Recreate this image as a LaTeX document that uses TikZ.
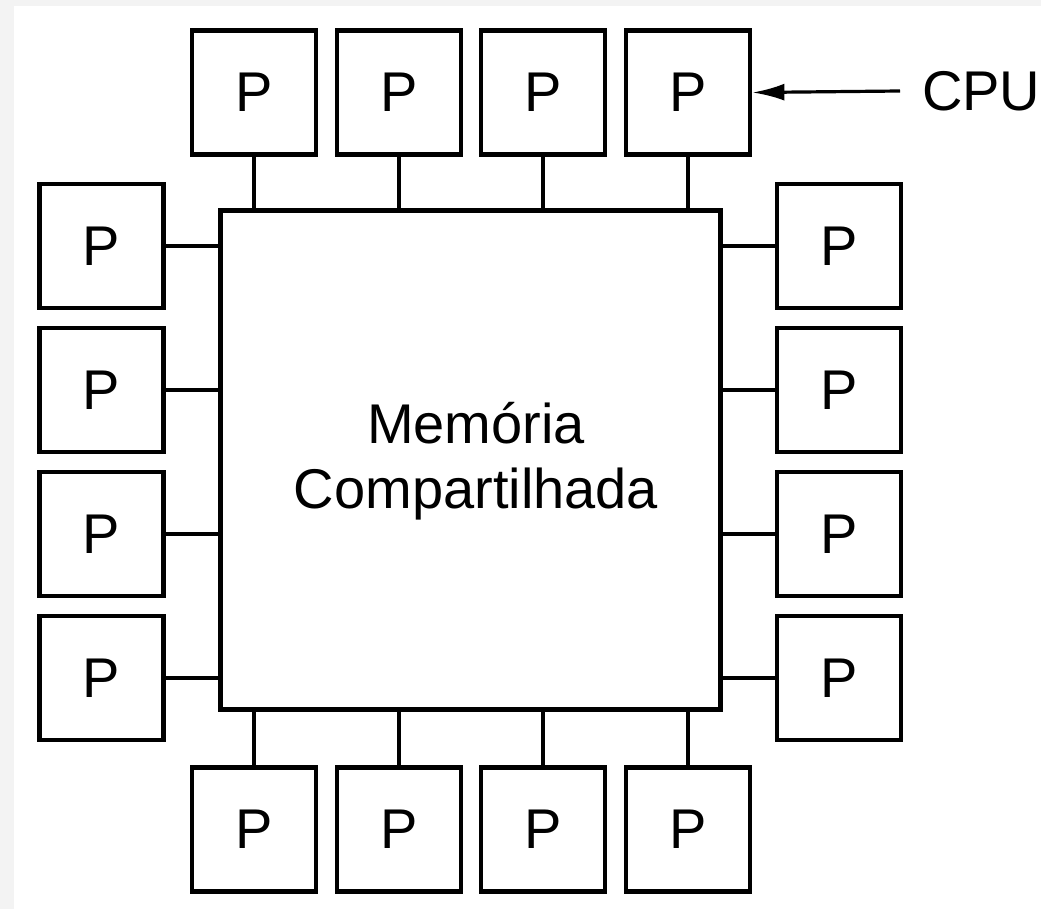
\documentclass[tikz,border=0pt]{standalone}
\usepackage{fontspec}
\setmainfont{Liberation Sans}
\usetikzlibrary{arrows.meta}
\definecolor{bggray}{HTML}{F3F3F3}
\tikzset{
  pbox/.style={draw=black, fill=white, line width=4.8pt, minimum width=124pt, minimum height=124pt, inner sep=0pt, font=\fontsize{56}{65}\selectfont},
  membox/.style={draw=black, fill=white, line width=5.2pt, minimum width=500pt, minimum height=499pt, inner sep=0pt},
  conn/.style={line width=4.2pt, draw=black},
  lbl/.style={font=\fontsize{56}{65}\selectfont, inner sep=0pt},
}
\begin{document}
\begin{tikzpicture}[x=1pt,y=-1pt]
\useasboundingbox (0,0) rectangle (1041,909);
\fill[bggray] (0,0) rectangle (1041,909);
\fill[white] (14,6) rectangle (1041,909);
% memory
\node[membox] (mem) at (470.5,460) {};
\node[lbl, align=center, anchor=base] (memtxt) at (476,508) {Memória\\Compartilhada};
% top
\node[pbox] (t1) at (254,92.5) {P};
\node[pbox] (t2) at (399,92.5) {P};
\node[pbox] (t3) at (543,92.5) {P};
\node[pbox] (t4) at (688,92.5) {P};
% bottom
\node[pbox] (b1) at (254,829.5) {P};
\node[pbox] (b2) at (399,829.5) {P};
\node[pbox] (b3) at (543,829.5) {P};
\node[pbox] (b4) at (688,829.5) {P};
% left
\node[pbox] (l1) at (101.5,246) {P};
\node[pbox] (l2) at (101.5,390) {P};
\node[pbox] (l3) at (101.5,534) {P};
\node[pbox] (l4) at (101.5,678) {P};
% right
\node[pbox] (r1) at (839,246) {P};
\node[pbox] (r2) at (839,390) {P};
\node[pbox] (r3) at (839,534) {P};
\node[pbox] (r4) at (839,678) {P};
% connectors
\foreach \n in {t1,t2,t3,t4}{\draw[conn] (\n.south) -- (\n.south |- mem.north);}
\foreach \n in {b1,b2,b3,b4}{\draw[conn] (\n.north) -- (\n.north |- mem.south);}
\foreach \n in {l1,l2,l3,l4}{\draw[conn] (\n.east) -- (\n.east -| mem.west);}
\foreach \n in {r1,r2,r3,r4}{\draw[conn] (\n.west) -- (\n.west -| mem.east);}
% CPU label
\node[lbl, anchor=west, inner xsep=22pt] (cpu) at (900,91) {CPU};
\draw[line width=3.2pt, -{Latex[length=32pt,width=17pt]}] (cpu.west) -- (t4.east);
\end{tikzpicture}
\end{document}
